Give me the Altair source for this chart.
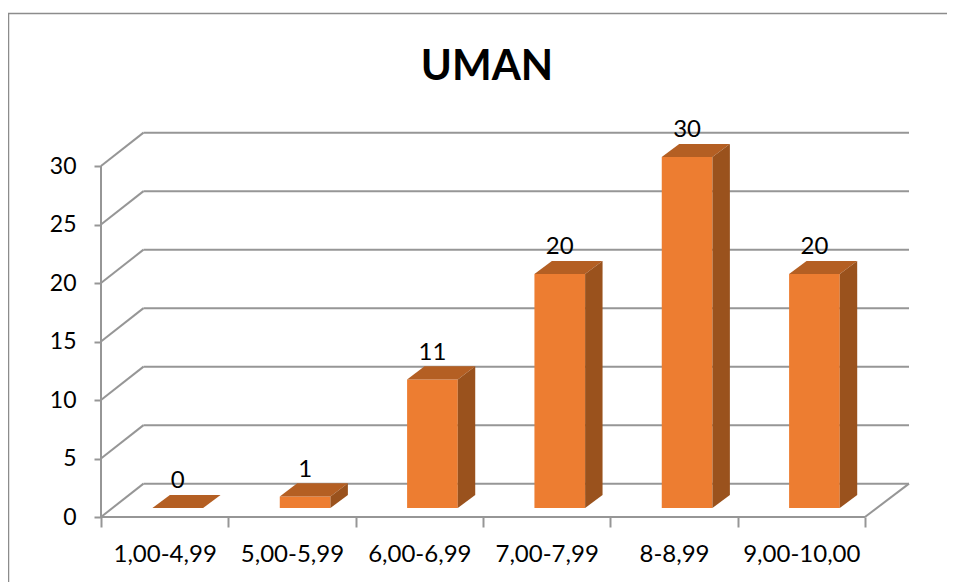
import altair as alt
import pandas as pd

title_text = "UMAN"
categories = ["1,00-4,99", "5,00-5,99", "6,00-6,99", "7,00-7,99", "8-8,99", "9,00-10,00"]
values = [0, 1, 11, 20, 30, 20]
y_ticks = [0, 5, 10, 15, 20, 25, 30]
x_ticks = [0, 1, 2, 3, 4, 5, 6]

FONT = "Lato"
GRID = "#969696"
FRONT, TOP, SIDE = "#ED7D31", "#B45F23", "#9A521D"

X_UNIT = 127.33
Y_UNIT = 11.7
W, H = 808, 385
x_dom = [0, W / X_UNIT]
y_dom = [0, H / Y_UNIT]

wall_dx, wall_dy = 0.334, 2.85     # depth of the chart floor, in axis units
bar_off, bar_w = 0.404, 0.398      # bar position inside a category
bar_dx, bar_dy = 0.137, 1.13       # depth of a bar
base = 0.76                        # front of the bars above the floor's front edge
label_dy = 3.05

front_rows, top_rows, side_rows, label_rows = [], [], [], []
for i, (c, v) in enumerate(zip(categories, values)):
    x0 = i + bar_off
    x1 = x0 + bar_w
    t = base + v
    front_rows.append(dict(x=x0, x2=x1, y=base, y2=t))
    for x, lo, hi in [(x0, t, t), (x0 + bar_dx, t, t + bar_dy),
                      (x1, t, t + bar_dy), (x1 + bar_dx, t + bar_dy, t + bar_dy)]:
        top_rows.append(dict(b=i, x=x, y=lo, y2=hi))
    for x, lo, hi in [(x1, base, t), (x1 + bar_dx, base + bar_dy, t + bar_dy)]:
        side_rows.append(dict(b=i, x=x, y=lo, y2=hi))
    label_rows.append(dict(x=x0 + bar_w / 2, y=v + label_dy, t=str(v)))

wall_rows = []
for v in y_ticks:
    wall_rows += [dict(g=f"s{v}", x=0, y=v), dict(g=f"s{v}", x=wall_dx, y=v + wall_dy)]
    wall_rows += [dict(g=f"b{v}", x=wall_dx, y=v + wall_dy), dict(g=f"b{v}", x=x_dom[1], y=v + wall_dy)]
wall_rows += [dict(g="v", x=0, y=0), dict(g="v", x=0, y=30)]
wall_rows += [dict(g="f", x=0, y=0), dict(g="f", x=6, y=0)]
wall_rows += [dict(g="r", x=6, y=0), dict(g="r", x=x_dom[1], y=wall_dy)]

label_expr = "[" + ",".join(f"'{c}'" for c in categories) + ",''][datum.value]"

xs = alt.Scale(domain=x_dom, nice=False, zero=False)
ys = alt.Scale(domain=y_dom, nice=False, zero=False)
X = alt.X("x:Q", scale=xs, title=None, axis=alt.Axis(
    values=x_ticks, grid=False, domain=False, ticks=True, tickSize=10, tickColor=GRID, tickWidth=2,
    labelExpr=label_expr, labelOffset=X_UNIT / 2, labelFont=FONT, labelFontSize=24, labelColor="#000000",
    labelPadding=15, labelOverlap=False, labelFlush=False, labelAlign="center"))
Y = alt.Y("y:Q", scale=ys, title=None, axis=alt.Axis(
    values=y_ticks, grid=False, domain=False, ticks=True, tickSize=7, tickColor=GRID, tickWidth=2,
    labelFont=FONT, labelFontSize=23, labelColor="#000000", labelPadding=18, format="d"))

walls = alt.Chart(pd.DataFrame(wall_rows)).mark_line(color=GRID, strokeWidth=2, clip=False).encode(
    x=X, y=Y, detail="g:N")
front = alt.Chart(pd.DataFrame(front_rows)).mark_bar(color=FRONT).encode(
    x=alt.X("x:Q", scale=xs), x2="x2:Q", y=alt.Y("y:Q", scale=ys), y2="y2:Q")
top = alt.Chart(pd.DataFrame(top_rows)).mark_area(color=TOP).encode(
    x=alt.X("x:Q", scale=xs), y=alt.Y("y:Q", scale=ys), y2="y2:Q", detail="b:N")
side = alt.Chart(pd.DataFrame(side_rows)).mark_area(color=SIDE).encode(
    x=alt.X("x:Q", scale=xs), y=alt.Y("y:Q", scale=ys), y2="y2:Q", detail="b:N")
labels = alt.Chart(pd.DataFrame(label_rows)).mark_text(
    font=FONT, fontSize=24, color="#000000", baseline="middle", align="center").encode(
    x=alt.X("x:Q", scale=xs), y=alt.Y("y:Q", scale=ys), text="t:N")

border_top = alt.Chart(pd.DataFrame({"k": [0]})).mark_rule(color="#8c8c8c", strokeWidth=1.5).encode(
    x=alt.value(-93), x2=alt.value(846), y=alt.value(-118.5))
border_left = alt.Chart(pd.DataFrame({"k": [0]})).mark_rule(color="#8c8c8c", strokeWidth=1.5).encode(
    x=alt.value(-92.5), y=alt.value(-118.5), y2=alt.value(450))
title_mark = alt.Chart(pd.DataFrame({"t": [title_text]})).mark_text(
    font=FONT, fontSize=42, fontWeight="bold", color="#000000", align="center", baseline="middle").encode(
    x=alt.value(386), y=alt.value(-65), text="t:N")

chart = alt.layer(border_top, border_left, title_mark, walls, front, top, side, labels).properties(
    width=W, height=H,
    autosize=alt.AutoSizeParams(type="none"),
    padding={"left": 93, "top": 124, "right": 38, "bottom": 65},
    background="#ffffff",
).configure_view(stroke=None)

chart.save("out.html", embed_options={"renderer": "svg", "actions": False})
